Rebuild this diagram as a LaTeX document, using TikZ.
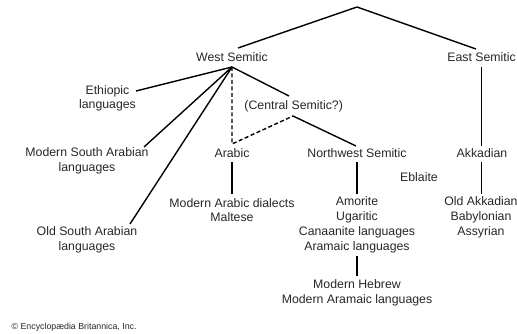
\documentclass[tikz,border=0pt]{standalone}
\usepackage{fontspec}
\setmainfont{Liberation Sans}
\begin{document}
\begin{tikzpicture}[x=1pt,y=-1pt,
  lbl/.style={inner sep=0pt,align=center,text=black!85,font=\fontsize{12.3}{14.8}\selectfont},
  br/.style={line width=1.4pt,black},
  dbr/.style={line width=1.4pt,black,dash pattern=on 4pt off 2.5pt}]
\useasboundingbox (0,0) rectangle (517,334);
% nodes
\node[lbl] (ws) at (232,57.5) {West Semitic};
\node[lbl] (es) at (481.5,57.5) {East Semitic};
\node[lbl] (eth) at (107.5,98.3) {Ethiopic\\languages};
\node[lbl] (msa) at (87,160.7) {Modern South Arabian\\languages};
\node[lbl] (osa) at (87,240) {Old South Arabian\\languages};
\node[lbl] (cs) at (293.7,106.7) {(Central Semitic?)};
\node[lbl] (ar) at (232,153.3) {Arabic};
\node[lbl] (nw) at (357,153.3) {Northwest Semitic};
\node[lbl] (ak) at (482,153.3) {Akkadian};
\node[lbl] (eb) at (419,176.7) {Eblaite};
\node[lbl] (mad) at (232,210.2) {Modern Arabic dialects\\Maltese};
\node[lbl] (am) at (357,224.9) {Amorite\\Ugaritic\\Canaanite languages\\Aramaic languages};
\node[lbl] (mh) at (357,293) {Modern Hebrew\\Modern Aramaic languages};
\node[lbl] (oa) at (481,217.5) {Old Akkadian\\Babylonian\\Assyrian};
\node[inner sep=0pt,anchor=west,text=black!85,font=\fontsize{8.8}{10}\selectfont] (copy) at (11.5,327.7) {© Encyclopædia Britannica, Inc.};
% junctions
\coordinate (top) at (357,7);
\coordinate (wsT) at (238,48);
\coordinate (esT) at (476,49);
\coordinate (wsJ) at (232,67);
\coordinate (esB) at (481.5,67);
\coordinate (akT) at (481.5,146);
\coordinate (ethE) at (136,91);
\coordinate (msaE) at (144,147);
\coordinate (osaE) at (130,224);
\coordinate (arT) at (232,144);
\coordinate (csT) at (289,96);
\coordinate (csB) at (293,116);
\coordinate (nwT) at (356,146);
\coordinate (arB) at (232,162);
\coordinate (madT) at (232,194);
\coordinate (nwB) at (357,162);
\coordinate (amT) at (357,194);
\coordinate (akB) at (481.5,162);
\coordinate (oaT) at (481.5,194);
\coordinate (amB) at (357,256);
\coordinate (mhT) at (357,276);
% connectors
\draw[br] (wsT) -- (top) -- (esT);
\draw[br] (esB) -- (akT);
\draw[br] (wsJ) -- (ethE);
\draw[br] (wsJ) -- (msaE);
\draw[br] (wsJ) -- (osaE);
\draw[br] (wsJ) -- (csT);
\draw[dbr] (wsJ) -- (arT) -- (csB);
\draw[br] (csB) -- (nwT);
\draw[br] (arB) -- (madT);
\draw[br] (nwB) -- (amT);
\draw[br] (akB) -- (oaT);
\draw[br] (amB) -- (mhT);
\end{tikzpicture}
\end{document}
